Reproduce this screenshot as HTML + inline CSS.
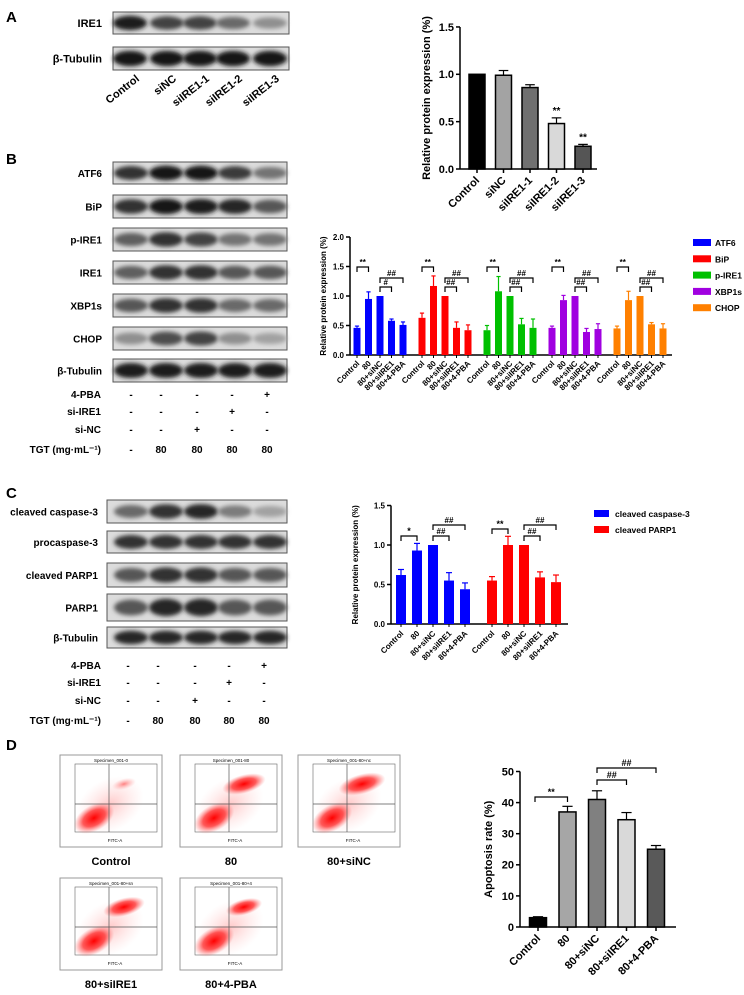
<!DOCTYPE html>
<html><head><meta charset="utf-8"><style>
html,body{margin:0;padding:0;background:#fff}
svg{display:block;font-family:"Liberation Sans",Arial,sans-serif;font-weight:bold}
</style></head><body>
<svg id="fig" width="744" height="995" viewBox="0 0 744 995" xmlns="http://www.w3.org/2000/svg">
<defs>
<filter id="blur1" x="-20%" y="-50%" width="140%" height="200%"><feGaussianBlur stdDeviation="2.2"/></filter>
<radialGradient id="cl" cx="50%" cy="50%" r="50%"><stop offset="0" stop-color="#f00" stop-opacity="1"/><stop offset="0.55" stop-color="#f22" stop-opacity="0.75"/><stop offset="1" stop-color="#f66" stop-opacity="0"/></radialGradient>
<radialGradient id="cl2" cx="50%" cy="50%" r="50%"><stop offset="0" stop-color="#f33" stop-opacity="0.6"/><stop offset="1" stop-color="#f88" stop-opacity="0"/></radialGradient>
</defs>
<g font-size="15">
<text x="6" y="22">A</text>
<text x="6" y="164">B</text>
<text x="6" y="498">C</text>
<text x="6" y="750">D</text>
</g>
<g id="blots"></g>
<g id="conds"></g>
<g id="chartA"></g>
<g id="chartB"></g>
<g id="chartC"></g>
<g id="flow"></g>
<g id="chartD"></g>
</svg>
<script>
// ---------- Chart A data ----------
const A_cats = ['Control','siNC','siIRE1-1','siIRE1-2','siIRE1-3'];
const A_vals = [1.0, 0.99, 0.86, 0.48, 0.24];
const A_errs = [0, 0.05, 0.03, 0.06, 0.02];
const A_sig = ['', '', '', '**', '**'];
const A_ticks = ['0.0','0.5','1.0','1.5'];
// ---------- Chart B data ----------
const B_groups = ['ATF6','BiP','p-IRE1','XBP1s','CHOP'];
const B_cats = ['Control','80','80+siNC','80+siIRE1','80+4-PBA'];
const B_atf6 = [0.46, 0.95, 1.0, 0.58, 0.51];
const B_bip = [0.63, 1.17, 1.0, 0.46, 0.42];
const B_pire1 = [0.42, 1.08, 1.0, 0.52, 0.46];
const B_xbp1s = [0.46, 0.93, 1.0, 0.39, 0.44];
const B_chop = [0.45, 0.93, 1.0, 0.52, 0.45];
const B_atf6_err = [0.03, 0.12, 0, 0.03, 0.05];
const B_bip_err = [0.08, 0.17, 0, 0.1, 0.09];
const B_pire1_err = [0.08, 0.25, 0, 0.1, 0.15];
const B_xbp1s_err = [0.03, 0.08, 0, 0.06, 0.09];
const B_chop_err = [0.04, 0.15, 0, 0.03, 0.08];
const B_ticks = ['0.0','0.5','1.0','1.5','2.0'];
// ---------- Chart C data ----------
const C_groups = ['cleaved caspase-3','cleaved PARP1'];
const C_cats = ['Control','80','80+siNC','80+siIRE1','80+4-PBA'];
const C_casp = [0.62, 0.93, 1.0, 0.55, 0.44];
const C_parp = [0.55, 1.0, 1.0, 0.59, 0.53];
const C_casp_err = [0.07, 0.09, 0, 0.1, 0.08];
const C_parp_err = [0.05, 0.11, 0, 0.07, 0.09];
const C_ticks = ['0.0','0.5','1.0','1.5'];
// ---------- Chart D data ----------
const D_cats = ['Control','80','80+siNC','80+siIRE1','80+4-PBA'];
const D_vals = [3.0, 37.0, 41.0, 34.5, 25.0];
const D_errs = [0.3, 1.8, 2.8, 2.3, 1.2];
const D_ticks = ['0','10','20','30','40','50'];

const NS = 'http://www.w3.org/2000/svg';
function mk(tag, attrs, parent, txt){
  const e = document.createElementNS(NS, tag);
  for (const k in attrs) e.setAttribute(k, attrs[k]);
  if (txt !== undefined) e.textContent = txt;
  parent.appendChild(e);
  return e;
}

// ---------- Blots ----------
const blots = document.getElementById('blots');
function blot(label, x1, x2, y1, y2, lanes, dens, lblX, fs){
  const g = mk('g', {}, blots);
  
  
  const t = mk('text', {x: lblX, y: (y1+y2)/2+4, 'text-anchor':'end', 'font-size': fs}, g, label);
  
  
  const r = mk('rect', {x:x1, y:y1, width:x2-x1, height:y2-y1, fill:'#dcdcdc', stroke:'#555', 'stroke-width':1}, g);
  
  
  const h = (y2-y1);
  lanes.forEach((lx, i) => {
    const d = dens[i];
    const c = Math.round(200 - d*190);
    const b = mk('ellipse', {cx:lx, cy:(y1+y2)/2, rx:17, ry:h*0.22+d*h*0.12, fill:'rgb('+c+','+c+','+c+')', filter:'url(#blur1)'}, g);
    
    
  });
}
const LA = [130,167,200,233,270];
blot('IRE1',113,289,12,34,LA,[0.9,0.7,0.7,0.5,0.3],102,11);
blot('β-Tubulin',113,289,47,70,LA,[0.95,0.95,0.95,0.95,0.95],102,11);
const LB = [131,166,201,235,270];
const rowsB = [['ATF6',162,184,[0.8,0.95,0.95,0.75,0.45]],['BiP',195,218,[0.8,0.95,0.9,0.85,0.6]],['p-IRE1',228,251,[0.55,0.8,0.7,0.45,0.45]],['IRE1',261,284,[0.55,0.8,0.8,0.6,0.6]],['XBP1s',294,317,[0.6,0.8,0.8,0.5,0.5]],['CHOP',327,350,[0.3,0.65,0.7,0.3,0.2]],['β-Tubulin',359,382,[0.9,0.9,0.9,0.9,0.9]]];
rowsB.forEach(r => blot(r[0],113,287,r[1],r[2],LB,r[3],102,10));
const rowsC = [['cleaved caspase-3',500,523,[0.5,0.8,0.85,0.4,0.2]],['procaspase-3',531,553,[0.8,0.8,0.8,0.8,0.8]],['cleaved PARP1',563,587,[0.6,0.8,0.8,0.6,0.6]],['PARP1',594,621,[0.6,0.85,0.85,0.6,0.6]],['β-Tubulin',627,648,[0.85,0.85,0.85,0.85,0.85]]];
rowsC.forEach(r => blot(r[0],107,287,r[1],r[2],LB,r[3],98,10));
// A lane labels
A_cats.forEach((c,i) => {
  const t = mk('text', {x:LA[i]+10, y:80, 'text-anchor':'end', 'font-size':11, transform:'rotate(-38 '+(LA[i]+10)+' 80)'}, blots, c);
  
  
});

// ---------- Condition tables ----------
const conds = document.getElementById('conds');
function condTable(y0, cols){
  const rows = [['4-PBA',['-','-','-','-','+']],['si-IRE1',['-','-','-','+','-']],['si-NC',['-','-','+','-','-']],['TGT (mg·mL⁻¹)',['-','80','80','80','80']]];
  const ys = [y0, y0+17, y0+35, y0+55];
  rows.forEach((r, ri) => {
    const t = mk('text', {x: 101, y: ys[ri], 'font-size':10, 'text-anchor':'end'}, conds, r[0]);
    
    
    r[1].forEach((v, ci) => {
      const s = mk('text', {x: cols[ci], y: ys[ri], 'font-size':10, 'text-anchor':'middle'}, conds, v);
      
      
    });
  });
}
condTable(398,[131,161,197,232,267]);
condTable(669,[128,158,195,229,264]);

// ---------- Generic helpers ----------
function yAxis(g, x, yTop, yBot, ticks, yOf, fs, title, titleX){
  const a = mk('line', {x1:x, y1:yTop, x2:x, y2:yBot, stroke:'#000', 'stroke-width':1.5}, g);
  
  
  ticks.forEach(tk => {
    const y = yOf(parseFloat(tk));
    mk('line', {x1:x-4, y1:y, x2:x, y2:y, stroke:'#000', 'stroke-width':1.5}, g);
    const t = mk('text', {x:x-6, y:y+fs*0.35, 'text-anchor':'end', 'font-size':fs}, g, tk);
    
    
  });
  const my = (yTop+yBot)/2;
  const tt = mk('text', {x:titleX, y:my, 'text-anchor':'middle', 'font-size':fs, transform:'rotate(-90 '+titleX+' '+my+')'}, g, title);
  
  
}
function bar(g, cx, w, y0, yv, yerr, fill, stroke, name){
  const r = mk('rect', {x:cx-w/2, y:yv, width:w, height:y0-yv, fill:fill, stroke:stroke, 'stroke-width':stroke=='none'?0:1.5}, g);
  
  
  if (yerr < yv - 0.5){
    mk('line', {x1:cx, y1:yv, x2:cx, y2:yerr, stroke:stroke=='none'?fill:'#000', 'stroke-width':1.2}, g);
    mk('line', {x1:cx-w*0.3, y1:yerr, x2:cx+w*0.3, y2:yerr, stroke:stroke=='none'?fill:'#000', 'stroke-width':1.2}, g);
  }
}
function bracket(g, x1, x2, y, label, fs){
  const p = mk('path', {d:'M'+x1+' '+(y+5)+'V'+y+'H'+x2+'V'+(y+5), fill:'none', stroke:'#000', 'stroke-width':1.2}, g);
  
  
  const t = mk('text', {x:(x1+x2)/2, y:y-2, 'text-anchor':'middle', 'font-size':fs}, g, label);
  
  
}
function xLabel(g, x, y, txt, fs){
  const t = mk('text', {x:x+3, y:y, 'text-anchor':'end', 'font-size':fs, transform:'rotate(-45 '+(x+3)+' '+y+')'}, g, txt);
  
  
}

// ---------- Chart A ----------
(function(){
  const g = document.getElementById('chartA');
  const y0 = 169, yOf = v => y0 - v*94.7, xOf = i => 477 + i*26.5;
  const fills = ['#000','#a3a3a3','#707070','#d9d9d9','#555'];
  yAxis(g, 460, 27, y0, A_ticks, yOf, 11, 'Relative protein expression (%)', 430);
  const ax = mk('line', {x1:460, y1:y0, x2:597, y2:y0, stroke:'#000', 'stroke-width':1.5}, g);
  
  
  A_vals.forEach((v,i) => {
    bar(g, xOf(i), 16, y0, yOf(v), yOf(v + A_errs[i]), fills[i], '#000', 'bar-' + A_cats[i].toLowerCase());
    mk('line', {x1:xOf(i), y1:y0, x2:xOf(i), y2:y0+4, stroke:'#000', 'stroke-width':1.5}, g);
    if (A_sig[i]) {
      const s = mk('text', {x:xOf(i), y:yOf(v + A_errs[i]) - 4, 'text-anchor':'middle', 'font-size':10}, g, A_sig[i]);
      
      
    }
    xLabel(g, xOf(i), y0+12, A_cats[i], 11);
  });
})();

// ---------- Chart B ----------
(function(){
  const g = document.getElementById('chartB');
  const y0 = 355, yOf = v => y0 - v*59, xOf = (gi,i) => 357 + gi*65 + i*11.5;
  const series = [B_atf6, B_bip, B_pire1, B_xbp1s, B_chop];
  const errs = [B_atf6_err, B_bip_err, B_pire1_err, B_xbp1s_err, B_chop_err];
  const cols = ['#0000ff','#ff0000','#00c000','#a000e0','#ff8000'];
  yAxis(g, 350, yOf(2.0), y0, B_ticks, yOf, 8, 'Relative protein expression (%)', 326);
  const ax = mk('line', {x1:350, y1:y0, x2:672, y2:y0, stroke:'#000', 'stroke-width':1.5}, g);
  
  
  series.forEach((vals, gi) => {
    vals.forEach((v,i) => {
      bar(g, xOf(gi,i), 7, y0, yOf(v), yOf(v + errs[gi][i]), cols[gi], 'none', 'bar-' + B_groups[gi].toLowerCase() + '-' + i);
      mk('line', {x1:xOf(gi,i), y1:y0, x2:xOf(gi,i), y2:y0+3, stroke:'#000', 'stroke-width':1}, g);
      xLabel(g, xOf(gi,i), y0+9, B_cats[i], 8);
    });
    bracket(g, xOf(gi,0), xOf(gi,1), 267, '**', 8);
    bracket(g, xOf(gi,2), xOf(gi,3), 287, gi==0 ? '#' : '##', 8);
    bracket(g, xOf(gi,2), xOf(gi,4), 278, '##', 8);
    const ly = 243 + gi*16.3;
    const sw = mk('rect', {x:693, y:ly-4, width:18, height:7, fill:cols[gi]}, g);
    
    
    const lt = mk('text', {x:715, y:ly+3, 'font-size':8.5}, g, B_groups[gi]);
    
    
  });
})();

// ---------- Chart C ----------
(function(){
  const g = document.getElementById('chartC');
  const y0 = 624, yOf = v => y0 - v*79, xOf = (gi,i) => 401 + gi*91 + i*16;
  const series = [C_casp, C_parp], errs = [C_casp_err, C_parp_err];
  const cols = ['#0000ff','#ff0000'];
  const sigs = ['*','**'];
  yAxis(g, 391, yOf(1.5), y0, C_ticks, yOf, 8, 'Relative protein expression (%)', 358);
  const ax = mk('line', {x1:391, y1:y0, x2:568, y2:y0, stroke:'#000', 'stroke-width':1.5}, g);
  
  
  series.forEach((vals, gi) => {
    vals.forEach((v,i) => {
      bar(g, xOf(gi,i), 10, y0, yOf(v), yOf(v + errs[gi][i]), cols[gi], 'none', 'bar-' + C_groups[gi].replace(/ /g,'-') + '-' + i);
      mk('line', {x1:xOf(gi,i), y1:y0, x2:xOf(gi,i), y2:y0+3, stroke:'#000', 'stroke-width':1}, g);
      xLabel(g, xOf(gi,i), y0+10, C_cats[i], 8);
    });
    bracket(g, xOf(gi,0), xOf(gi,1), gi==0?536:529, sigs[gi], 9);
    bracket(g, xOf(gi,2), xOf(gi,3), 536, '##', 8);
    bracket(g, xOf(gi,2), xOf(gi,4), 525, '##', 8);
    const ly = 514 + gi*16;
    const sw = mk('rect', {x:594, y:ly-4, width:15, height:7, fill:cols[gi]}, g);
    
    
    const lt = mk('text', {x:615, y:ly+3, 'font-size':8.5}, g, C_groups[gi]);
    
    
  });
})();

// ---------- Flow plots ----------
(function(){
  const g = document.getElementById('flow');
  const plots = [
    {x:60, y:755, lbl:'Control', up:0.35, title:'Specimen_001-0'},
    {x:180, y:755, lbl:'80', up:0.9, title:'Specimen_001-80'},
    {x:298, y:755, lbl:'80+siNC', up:1.0, title:'Specimen_001-80+nc'},
    {x:60, y:878, lbl:'80+siIRE1', up:0.85, title:'Specimen_001-80+sn'},
    {x:180, y:878, lbl:'80+4-PBA', up:0.7, title:'Specimen_001-80+4'}
  ];
  plots.forEach(p => {
    const pg = mk('g', {}, g);
    
    
    mk('rect', {x:p.x, y:p.y, width:102, height:92, fill:'#fff', stroke:'#999', 'stroke-width':1}, pg);
    mk('text', {x:p.x+51, y:p.y+7, 'text-anchor':'middle', 'font-size':4.5, 'font-weight':'normal'}, pg, p.title);
    mk('rect', {x:p.x+15, y:p.y+9, width:82, height:68, fill:'none', stroke:'#666', 'stroke-width':0.6}, pg);
    mk('ellipse', {cx:p.x+50, cy:p.y+50, rx:36, ry:26, fill:'url(#cl2)', opacity:0.45, transform:'rotate(-30 '+(p.x+50)+' '+(p.y+50)+')'}, pg);
    mk('ellipse', {cx:p.x+34, cy:p.y+63, rx:22, ry:13, fill:'url(#cl)', transform:'rotate(-30 '+(p.x+34)+' '+(p.y+63)+')'}, pg);
    mk('ellipse', {cx:p.x+64, cy:p.y+29, rx:18*p.up+6, ry:7*p.up+3, fill:p.up>0.5?'url(#cl)':'url(#cl2)', transform:'rotate(-15 '+(p.x+64)+' '+(p.y+29)+')'}, pg);
    mk('line', {x1:p.x+15, y1:p.y+49, x2:p.x+97, y2:p.y+49, stroke:'#555', 'stroke-width':0.7}, pg);
    mk('line', {x1:p.x+49, y1:p.y+9, x2:p.x+49, y2:p.y+77, stroke:'#555', 'stroke-width':0.7}, pg);
    mk('text', {x:p.x+55, y:p.y+87, 'text-anchor':'middle', 'font-size':4.5, 'font-weight':'normal'}, pg, 'FITC-A');
    const t = mk('text', {x:p.x+51, y:p.y+110, 'text-anchor':'middle', 'font-size':11}, pg, p.lbl);
    
    
  });
})();

// ---------- Chart D ----------
(function(){
  const g = document.getElementById('chartD');
  const y0 = 927, yOf = v => y0 - v*3.11, xOf = i => 538 + i*29.5;
  const fills = ['#000','#a6a6a6','#808080','#d9d9d9','#595959'];
  yAxis(g, 520, yOf(50), y0, D_ticks, yOf, 11, 'Apoptosis rate (%)', 492);
  const ax = mk('line', {x1:520, y1:y0, x2:676, y2:y0, stroke:'#000', 'stroke-width':1.5}, g);
  
  
  D_vals.forEach((v,i) => {
    bar(g, xOf(i), 17, y0, yOf(v), yOf(v + D_errs[i]), fills[i], '#000', 'bar-' + D_cats[i].toLowerCase());
    mk('line', {x1:xOf(i), y1:y0, x2:xOf(i), y2:y0+4, stroke:'#000', 'stroke-width':1.5}, g);
    xLabel(g, xOf(i), y0+12, D_cats[i], 11);
  });
  bracket(g, xOf(0)-3, xOf(1), 797, '**', 9);
  bracket(g, xOf(2), xOf(3), 780, '##', 9);
  bracket(g, xOf(2), xOf(4), 768, '##', 9);
})();
</script>
</body></html>
